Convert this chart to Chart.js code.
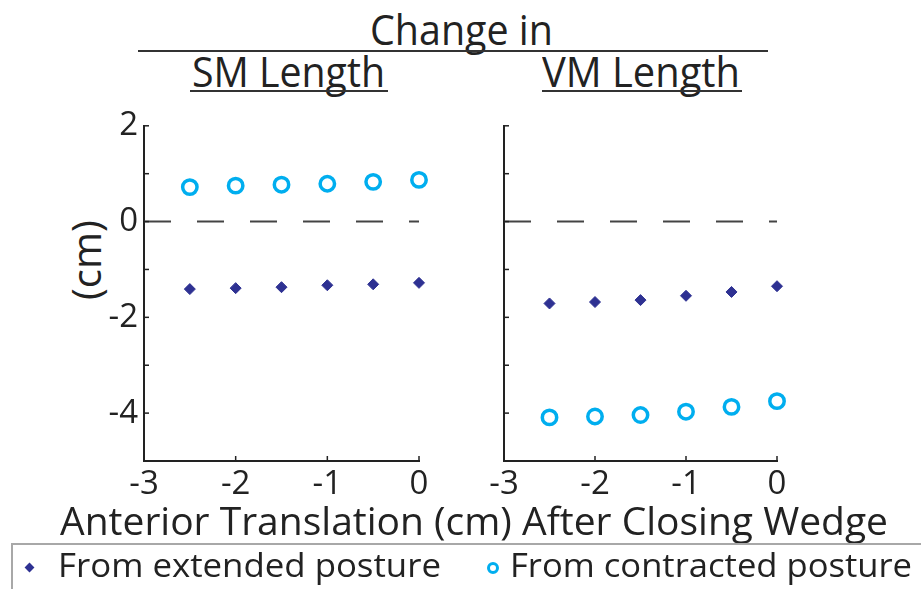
<!DOCTYPE html>
<html>
<head>
<meta charset="utf-8">
<script src="https://cdn.jsdelivr.net/npm/chart.js@4/dist/chart.umd.min.js"></script>
<style>
  html, body { margin: 0; padding: 0; background: #fff; overflow: hidden; }
  body { width: 921px; height: 589px; position: relative; font-family: 'Open Sans', sans-serif; color: #222; }
  .txt { position: absolute; white-space: nowrap; line-height: 1; transform-origin: 0 0; }
  .rule { position: absolute; background: #333; height: 2px; }
  .panel { position: absolute; top: 100px; height: 400px; }
  #legend { position: absolute; left: 11px; top: 543px; width: 1200px; height: 80px; border: 2px solid #a8a8a8; box-sizing: border-box; }
  .mk-diamond { position: absolute; width: 7px; height: 7px; background: #2e3192; transform: rotate(45deg); }
  .mk-circle { position: absolute; width: 6px; height: 6px; border: 3px solid #00aeef; border-radius: 50%; background: #fff; }
</style>
</head>
<body>

<div class="txt" data-w="183" style="left:370px; top:8px; font-size:42px;">Change in</div>
<div class="rule" style="left:138px; top:50px; width:630px;"></div>
<div class="txt" data-w="193" style="left:192px; top:50px; font-size:42px;">SM Length</div>
<div class="rule" style="left:190px; top:90px; width:198px;"></div>
<div class="txt" data-w="198" style="left:542px; top:50px; font-size:42px;">VM Length</div>
<div class="rule" style="left:542px; top:90px; width:200px;"></div>

<div class="txt" id="ylab" style="left:66px; top:300px; font-size:40px; transform: rotate(-90deg);">(cm)</div>

<div class="panel" style="left:0; width:440px;"><canvas id="smChart" width="440" height="400"></canvas></div>
<div class="panel" style="left:460px; width:461px;"><canvas id="vmChart" width="461" height="400"></canvas></div>

<div class="txt" data-w="828" style="left:60px; top:501px; font-size:38px;">Anterior Translation (cm) After Closing Wedge</div>

<div id="legend"></div>
<div class="mk-diamond" style="left:26px; top:564px;"></div>
<div class="txt" data-w="383" style="left:58px; top:548px; font-size:33px;">From extended posture</div>
<div class="mk-circle" style="left:487px; top:562px;"></div>
<div class="txt" data-w="402" style="left:510px; top:548px; font-size:33px;">From contracted posture</div>

<script>
// anterior translation (cm)
const xValues = [-2.5, -2, -1.5, -1, -0.5, 0];
const zeroLineX = [-3, 0];

// change in SM length (cm)
const smExtended = [-1.41, -1.39, -1.37, -1.33, -1.31, -1.28];
const smContracted = [0.72, 0.75, 0.77, 0.79, 0.83, 0.87];

// change in VM length (cm)
const vmExtended = [-1.71, -1.68, -1.64, -1.55, -1.47, -1.35];
const vmContracted = [-4.09, -4.07, -4.04, -3.97, -3.87, -3.75];

const xTicks = [-3, -2, -1, 0];
const yMin = -5, yMax = 2;

const NAVY = '#2e3192';
const CYAN = '#00aeef';
const INK = '#222';

// fit text widths to the reference (Myriad is narrower than Open Sans)
document.querySelectorAll('.txt[data-w]').forEach(el => {
    const w = +el.dataset.w;
    const actual = el.getBoundingClientRect().width;
    if (actual > 0) el.style.transform = 'scaleX(' + (w / actual) + ')';
});

// ticks drawn inward, MATLAB style
const inwardTicks = {
    id: 'inwardTicks',
    afterDraw(chart) {
        const ctx = chart.ctx;
        ctx.save();
        ctx.strokeStyle = INK;
        ctx.lineWidth = 1.5;
        const xs = chart.scales.x, ys = chart.scales.y;
        xs.ticks.forEach(t => {
            const px = xs.getPixelForValue(t.value);
            ctx.beginPath();
            ctx.moveTo(px, xs.top);
            ctx.lineTo(px, xs.top - 5);
            ctx.stroke();
        });
        ys.ticks.forEach(t => {
            const py = ys.getPixelForValue(t.value);
            ctx.beginPath();
            ctx.moveTo(ys.right, py);
            ctx.lineTo(ys.right + 5, py);
            ctx.stroke();
        });
        ctx.restore();
    }
};

function makePanel(canvasId, extended, contracted, opts) {
    const toPts = arr => arr.map((y, i) => ({ x: xValues[i], y: y }));
    return new Chart(document.getElementById(canvasId), {
        type: 'scatter',
        data: {
            datasets: [
                {
                    type: 'line',
                    data: zeroLineX.map(x => ({ x: x, y: 0 })),
                    borderColor: '#444',
                    borderWidth: 2,
                    borderDash: [27, 26],
                    pointRadius: 0,
                    fill: false,
                    order: 3
                },
                {
                    label: 'From extended posture',
                    data: toPts(extended),
                    pointStyle: 'rectRot',
                    radius: 5.5,
                    backgroundColor: NAVY,
                    borderColor: NAVY,
                    borderWidth: 1,
                    clip: false,
                    order: 1
                },
                {
                    label: 'From contracted posture',
                    data: toPts(contracted),
                    pointStyle: 'circle',
                    radius: 7.2,
                    backgroundColor: '#fff',
                    borderColor: CYAN,
                    borderWidth: 3.5,
                    clip: false,
                    order: 2
                }
            ]
        },
        options: {
            responsive: false,
            animation: false,
            devicePixelRatio: 1,
            layout: { padding: { top: 22, right: opts.padRight, left: 0, bottom: 0 } },
            plugins: { legend: { display: false }, tooltip: { enabled: false } },
            scales: {
                x: {
                    type: 'linear',
                    min: -3, max: 0,
                    afterBuildTicks: s => { s.ticks = xTicks.map(v => ({ value: v })); },
                    afterFit: s => { s.height = 39; },
                    grid: { display: false, drawTicks: false },
                    border: { display: true, color: INK, width: 2 },
                    ticks: {
                        padding: 4,
                        color: INK,
                        font: { family: 'Open Sans', size: 33 },
                        maxRotation: 0,
                        callback: v => String(v)
                    }
                },
                y: {
                    type: 'linear',
                    min: yMin, max: yMax,
                    afterFit: s => { s.width = opts.yWidth; },
                    grid: { display: false, drawTicks: false },
                    border: { display: true, color: INK, width: 2 },
                    ticks: {
                        stepSize: 1,
                        padding: 6,
                        color: INK,
                        font: { family: 'Open Sans', size: 33 },
                        callback: v => (opts.showY && v % 2 === 0) ? String(v) : ''
                    }
                }
            }
        },
        plugins: [inwardTicks]
    });
}

makePanel('smChart', smExtended, smContracted, { padRight: 21, yWidth: 144, showY: true });
makePanel('vmChart', vmExtended, vmContracted, { padRight: 144, yWidth: 44, showY: false });
</script>
</body>
</html>
